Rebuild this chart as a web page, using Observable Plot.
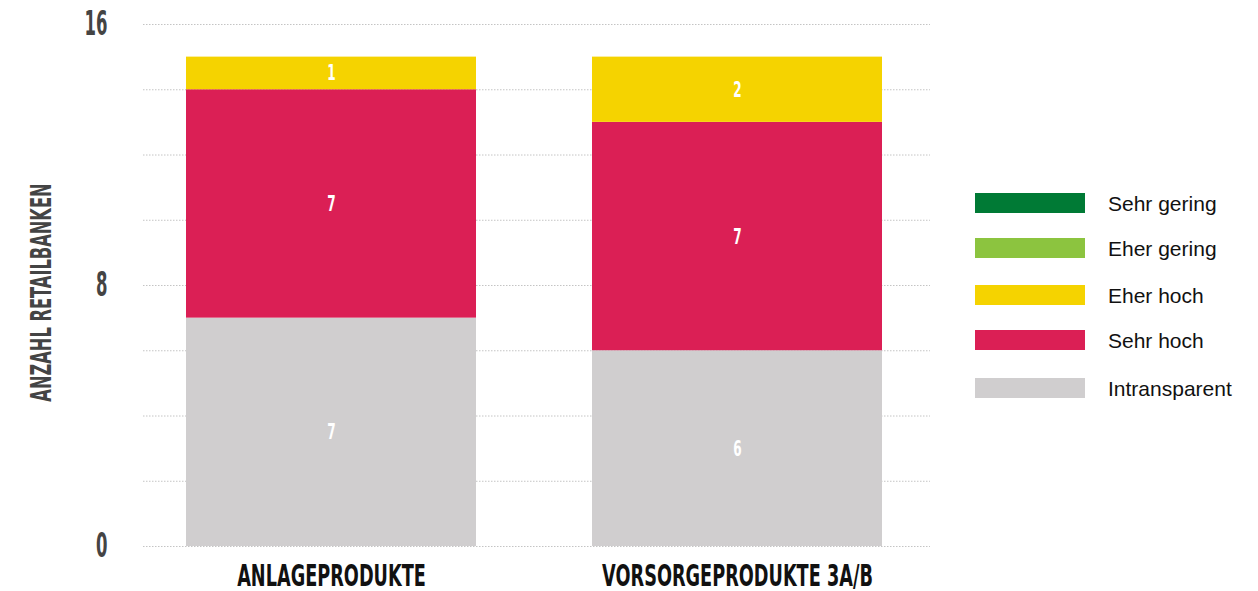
<!DOCTYPE html>
<html>
<head>
<meta charset="utf-8">
<script src="https://cdn.jsdelivr.net/npm/d3@7"></script>
<script src="https://cdn.jsdelivr.net/npm/@observablehq/plot@0.6"></script>
<style>
  html, body { margin: 0; padding: 0; background: #fff; }
  #wrap { position: relative; width: 1258px; height: 591px; }
  #legend { position: absolute; left: 975px; top: 0; font-family: "Liberation Sans", Arial, sans-serif; font-size: 21px; color: #111; }
  .row { position: absolute; left: 0; width: 280px; height: 20px; }
  .sw { position: absolute; left: 0; top: 0; width: 110px; height: 20px; }
  .lb { position: absolute; left: 133px; top: -1px; white-space: nowrap; line-height: 24px; }
</style>
</head>
<body>
<div id="wrap"></div>
<script>
const categories = ["ANLAGEPRODUKTE", "VORSORGEPRODUKTE 3A/B"];
const series = ["Intransparent", "Sehr hoch", "Eher hoch", "Eher gering", "Sehr gering"];
const colors = ["#d0cecf", "#db1f55", "#f5d300", "#8cc43f", "#007a35"];
const values = {
  "Intransparent": [7, 6],
  "Sehr hoch": [7, 7],
  "Eher hoch": [1, 2],
  "Eher gering": [0, 0],
  "Sehr gering": [0, 0]
};
const yTicks = [0, 8, 16];
const legendOrder = ["Sehr gering", "Eher gering", "Eher hoch", "Sehr hoch", "Intransparent"];
const yLabel = "ANZAHL RETAILBANKEN";

const data = [];
series.forEach((s, si) => categories.forEach((c, ci) => {
  data.push({category: c, series: s, value: values[s][ci]});
}));

const condFont = "'DejaVu Sans', sans-serif";

const plot = Plot.plot({
  width: 1258,
  height: 591,
  marginLeft: 143,
  marginRight: 328,
  marginTop: 24,
  marginBottom: 45,
  style: {fontFamily: condFont, background: "#fff"},
  x: {domain: categories, paddingInner: 0.285, paddingOuter: 0.11, align: 0.47, label: null},
  y: {domain: [0, 16], label: null},
  color: {domain: series, range: colors},
  marks: [
    Plot.gridY(d3.range(0, 17, 2), {stroke: "#c4c4c4", strokeOpacity: 1, strokeDasharray: "1.5,1.5"}),
    Plot.barY(data, Plot.stackY({x: "category", y: "value", fill: "series", z: "series", order: series})),
    Plot.text(data, Plot.stackY({
      x: "category", y: "value", z: "series", order: series,
      text: d => d.value > 0 ? String(d.value) : "",
      fill: "#fff", fontSize: 22, fontWeight: "bold"
    })),
    Plot.axisY({ticks: yTicks, tickSize: 0, tickPadding: 36, fontSize: 33, fontWeight: "bold", fill: "#444", tickFormat: d => String(d)}),
    Plot.axisX({tickSize: 0, tickPadding: 18, fontSize: 30, fontWeight: "bold", fill: "#111"}),
    Plot.text([yLabel], {frameAnchor: "left", dx: -102, dy: 7, rotate: -90, textAnchor: "middle", text: d => d, fontSize: 29, fontWeight: "bold", fill: "#444"})
  ]
});

function condense(selector, sx, filter) {
  plot.querySelectorAll(selector).forEach(t => {
    if (filter && !filter(t)) return;
    const tr = t.getAttribute("transform") || "";
    t.setAttribute("transform", tr + ` scale(${sx},1)`);
  });
}
condense('g[aria-label="y-axis tick label"] text', 0.5);
condense('g[aria-label="x-axis tick label"] text', 0.59);
condense('g[aria-label="text"] text', 0.55, t => t.textContent !== yLabel);
condense('g[aria-label="text"] text', 0.56, t => t.textContent === yLabel);

const wrap = document.getElementById("wrap");
wrap.appendChild(plot);

const legend = document.createElement("div");
legend.id = "legend";
const rowTops = [193, 238, 285, 330, 378];
legendOrder.forEach((s, i) => {
  const row = document.createElement("div");
  row.className = "row";
  row.style.top = rowTops[i] + "px";
  const sw = document.createElement("div");
  sw.className = "sw";
  sw.style.background = colors[series.indexOf(s)];
  const lb = document.createElement("div");
  lb.className = "lb";
  lb.textContent = s;
  row.appendChild(sw);
  row.appendChild(lb);
  legend.appendChild(row);
});
wrap.appendChild(legend);
</script>
</body>
</html>
